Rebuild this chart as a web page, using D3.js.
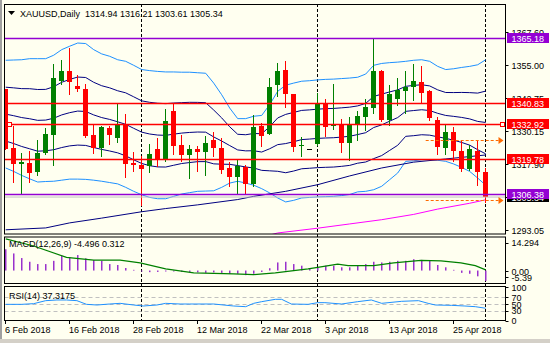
<!DOCTYPE html>
<html><head><meta charset="utf-8">
<script src="https://cdn.jsdelivr.net/npm/d3@7"></script>
<style>
body{margin:0;background:#FFFFF0}
svg{display:block}
text{font-family:"Liberation Sans",Arial,sans-serif;font-size:9px}
</style></head>
<body><svg id="c" width="550" height="343"></svg>
<script>
// ---------- DATA ----------
const dates = [
 "2018-02-06","2018-02-07","2018-02-08","2018-02-09","2018-02-12","2018-02-13","2018-02-14","2018-02-15","2018-02-16",
 "2018-02-19","2018-02-20","2018-02-21","2018-02-22","2018-02-23","2018-02-26","2018-02-27","2018-02-28",
 "2018-03-01","2018-03-02","2018-03-05","2018-03-06","2018-03-07","2018-03-08","2018-03-09","2018-03-12",
 "2018-03-13","2018-03-14","2018-03-15","2018-03-16","2018-03-19","2018-03-20","2018-03-21","2018-03-22",
 "2018-03-23","2018-03-26","2018-03-27","2018-03-28","2018-03-29","2018-03-30",
 "2018-04-02","2018-04-03","2018-04-04","2018-04-05","2018-04-06","2018-04-09","2018-04-10","2018-04-11",
 "2018-04-12","2018-04-13","2018-04-16","2018-04-17","2018-04-18","2018-04-19","2018-04-20","2018-04-23",
 "2018-04-24","2018-04-25","2018-04-26","2018-04-27","2018-04-30","2018-05-01"];
const open  = [1346.1,1323.83,1317.92,1318.18,1314.78,1321.95,1328.86,1349.21,1352.98,1347.32,1346.19,1328.86,1323.83,1331.37,1327.6,1332.62,1318.18,1317.55,1316.92,1323.45,1319.43,1337.9,1325.09,1321.32,1323.45,1322.32,1326.97,1323.83,1316.29,1312.9,1316.67,1310.26,1332.0,1329.11,1347.7,1353.23,1344.18,1324.46,1323.45,1325.46,1340.67,1332.25,1332.62,1325.71,1332.62,1335.39,1338.91,1352.73,1334.51,1342.42,1345.44,1346.82,1348.71,1345.44,1334.51,1323.83,1329.86,1322.57,1316.04,1322.82,1314.94];
const high  = [1346.1,1332.0,1321.95,1322.57,1326.86,1331.37,1355.49,1357.0,1361.52,1351.47,1347.95,1332.62,1332.0,1332.0,1340.67,1336.65,1322.32,1320.69,1325.34,1327.6,1338.66,1340.41,1328.86,1325.09,1324.46,1328.23,1329.86,1327.6,1318.43,1319.43,1317.3,1336.14,1333.26,1350.21,1355.87,1356.5,1344.31,1327.85,1323.45,1344.56,1342.3,1347.95,1334.89,1335.39,1337.9,1342.42,1365.29,1353.36,1347.45,1350.21,1352.73,1355.49,1354.61,1345.6,1335.39,1332.62,1331.62,1326.59,1325.09,1326.34,1316.21];
const low   = [1323.6,1310.89,1306.6,1310.89,1313.78,1321.5,1317.55,1347.96,1344.31,1345.19,1327.85,1321.95,1320.69,1325.34,1326.09,1312.9,1315.29,1302.47,1314.78,1317.17,1319.0,1321.57,1318.8,1312.52,1315.03,1313.53,1320.94,1314.41,1309.38,1306.87,1306.87,1309.38,1324.46,1329.0,1343.3,1339.28,1322.82,1320.94,1323.45,1324.83,1328.48,1331.12,1322.2,1319.43,1326.72,1330.74,1337.02,1334.13,1332.62,1339.91,1337.02,1342.05,1340.79,1334.51,1321.57,1321.57,1318.8,1315.03,1315.41,1309.76,1303.61];
const close = [1323.6,1317.92,1318.55,1314.41,1321.95,1329.11,1350.21,1352.98,1348.58,1346.07,1328.48,1323.83,1331.75,1328.86,1332.88,1317.92,1317.55,1316.04,1321.57,1319.43,1334.13,1324.71,1321.32,1323.45,1322.32,1325.71,1323.83,1315.66,1312.9,1316.92,1310.26,1331.75,1328.23,1346.7,1352.98,1344.31,1324.21,1324.83,1323.45,1340.67,1331.75,1332.88,1325.71,1332.62,1335.77,1339.28,1352.98,1334.51,1344.31,1345.57,1346.82,1349.21,1344.56,1335.14,1324.08,1329.86,1322.57,1316.04,1323.45,1314.78,1305.34];
// Bollinger(20) outer bands
const bbUpper = [1356.9,1357.0,1357.1,1357.5,1357.5,1357.5,1358.8,1360.9,1362.2,1363.4,1363.2,1360.9,1359.3,1358.4,1357.1,1356.5,1355.0,1353.4,1353.0,1352.7,1352.5,1352.5,1352.4,1352.4,1352.2,1352.0,1348.3,1343.9,1338.9,1334.9,1334.9,1335.8,1336.1,1340.2,1345.2,1347.5,1348.3,1349.0,1349.2,1349.5,1349.7,1349.8,1350.0,1350.2,1350.5,1351.7,1355.0,1355.7,1356.0,1356.2,1356.5,1356.9,1357.1,1356.5,1354.6,1353.4,1353.7,1354.2,1354.6,1355.2,1357.1];
const bbLower = [1316.3,1315.0,1313.5,1312.2,1311.0,1311.2,1311.3,1311.7,1312.1,1312.1,1312.0,1311.7,1311.3,1310.8,1310.3,1309.0,1307.5,1306.2,1305.2,1304.7,1304.7,1305.6,1306.5,1307.0,1307.5,1307.6,1307.7,1309.0,1310.6,1311.3,1310.6,1309.8,1308.5,1306.9,1305.0,1303.5,1304.1,1305.0,1305.2,1305.4,1305.5,1305.6,1305.9,1306.3,1307.3,1307.5,1308.1,1309.4,1311.9,1314.4,1318.8,1319.0,1319.4,1319.4,1319.2,1318.8,1317.8,1316.5,1315.0,1312.5,1309.8];
// long moving averages (sampled bars)
const maSlowIdx = [0,5,8,12,17,20,24,29,31,35,39,43,47,51,55,60];
const maSlowVal = [1293.0,1293.7,1295.6,1297.4,1299.8,1301.0,1302.4,1304.4,1305.6,1307.5,1310.0,1313.3,1316.3,1318.5,1319.7,1321.2];
const ma200Idx = [33,34,39,43,47,51,54,58,60];
const ma200Val = [1291.0,1291.8,1293.6,1295.2,1296.8,1298.8,1300.8,1303.0,1304.3];
// horizontal objects
const levelValues = [1365.18,1340.83,1332.92,1319.78,1306.38];
const levelColors = ["#9400D3","#FF0000","#FF0000","#FF0000","#9400D3"];
const bidPrice = 1305.34;
const arrowValues = [1326.73,1304.12];
const arrowStartIdx = 53;
const priceTicks = [1367.60,1355.00,1342.75,1330.15,1317.90,1305.30,1293.05];
// MACD
const macdHist = [9.2,7.4,5.4,3.8,2.8,2.8,4.2,6.4,5.7,6.7,5.3,4.5,4.2,2.8,2.4,1.1,0.3,-0.4,-0.7,-0.6,-0.4,-0.4,-0.6,-0.6,-0.8,-1.0,-0.8,-1.0,-1.4,-1.4,-2.0,-1.4,-0.6,1.0,3.5,3.8,2.8,2.1,1.0,1.4,2.1,2.1,1.4,1.4,2.1,2.8,3.8,3.5,3.8,4.2,4.2,4.9,4.6,4.2,2.4,1.4,0.3,-1.0,-1.4,-2.5,-4.496];
const sigIdx = [0,3.5,7.6,11,14.3,16.8,20,23.5,28.5,31,33.7,37.8,39,41.5,42.8,46,48.5,51.9,54.4,56.9,58.7,60];
const sigVal = [13.7,10.6,5.7,4.5,4.5,3.3,0.7,-1.0,-1.4,-1.8,-1.0,0.7,1.4,2.8,2.1,2.1,3.3,4.4,4.2,3.3,2.1,0.312];
// RSI
const rsiIdx = [0,2,3.5,5,6.4,7.6,8.9,10.1,11.4,13,14.3,16,17.2,18.9,20,21.8,23,26,28.5,30,31,32,33.7,34.5,35.7,37.8,39,39.9,42,44,45.7,47,49.5,51.6,52.8,53.7,55.7,57.4,58.7,60];
const rsiVal = [49,49,51,60,62,62,60,49,47,50,52,47,44,47,52,50,50,50,44,42,52,57,64,64,50,49,54,54,50,57,62,52,58,60,52,47,46,44,42,37.3175];
const tickDates = ["2018-02-06","2018-02-16","2018-02-28","2018-03-12","2018-03-22","2018-04-03","2018-04-13","2018-04-25"];
const tickLabels = ["6 Feb 2018","16 Feb 2018","28 Feb 2018","12 Mar 2018","22 Mar 2018","3 Apr 2018","13 Apr 2018","25 Apr 2018"];
const separatorDates = ["2018-03-01","2018-04-02","2018-05-01"];

// ---------- LAYOUT ----------
const W=550,H=343, L=4.5, R=505.5;
const mainTop=4, mainBot=234, macdTop=236.5, macdBot=283.5, rsiTop=286, rsiBot=320.5;
const svg=d3.select("#c");
svg.append("rect").attr("width",W).attr("height",H).attr("fill","#FFFFF0");
svg.append("rect").attr("x",0).attr("y",0).attr("width",2).attr("height",H).attr("fill","#A0A0A0");
svg.append("rect").attr("x",0).attr("y",339).attr("width",W).attr("height",4).attr("fill","#D4D0C8");

const x = d3.scalePoint().domain(dates).range([5.7,485.7]);
const xi = i => 5.7 + (i)*(x.step());
const y = d3.scaleLinear().domain([1291.41,1378.11]).range([mainBot,mainTop]);
const yM = d3.scaleLinear().domain([-5.39,14.294]).range([283,237.5]);
const yR = d3.scaleLinear().domain([0,100]).range([320.7,287.3]);

const defs=svg.append("defs");
function clip(id,y0,y1){defs.append("clipPath").attr("id",id).append("rect").attr("x",L).attr("y",y0).attr("width",R-L).attr("height",y1-y0);}
clip("cm",mainTop,mainBot); clip("cd",macdTop,macdBot); clip("cr",rsiTop,rsiBot);

// separators
svg.append("g").selectAll("line").data(separatorDates).join("line")
 .attr("x1",d=>Math.floor(x(d))+0.5).attr("x2",d=>Math.floor(x(d))+0.5)
 .attr("y1",mainTop).attr("y2",rsiBot).attr("stroke","#000").attr("stroke-dasharray","3,2");

// main panel
const gm=svg.append("g").attr("clip-path","url(#cm)");
const idx=d3.range(dates.length);
const bbMid=idx.map(i=>(bbUpper[i]+bbLower[i])/2);
const bbHalf=idx.map(i=>(bbUpper[i]-bbLower[i])/2);
const bands=[
 {k:2,c:"#1E90FF"},{k:-2,c:"#1E90FF"},{k:1,c:"#000080"},{k:0,c:"#000080"},{k:-1,c:"#000080"}];
const line=d3.line().x(d=>d[0]).y(d=>d[1]);
bands.forEach(b=>{
 gm.append("path").attr("d",line(idx.map(i=>[x(dates[i]),y(bbMid[i]+b.k*bbHalf[i]/2)])))
  .attr("fill","none").attr("stroke",b.c).attr("stroke-width",1);
});
gm.append("path").attr("d",line(maSlowIdx.map((i,j)=>[xi(i),y(maSlowVal[j])]))).attr("fill","none").attr("stroke","#000080");
gm.append("path").attr("d",line(ma200Idx.map((i,j)=>[xi(i),y(ma200Val[j])]))).attr("fill","none").attr("stroke","#FF00FF");

// candles
const col=i=> close[i]>open[i]?"#008000":(close[i]<open[i]?"#FF0000":"#000000");
const cx=i=>Math.floor(x(dates[i]));
gm.selectAll("line.w").data(idx).join("line").attr("class","w")
 .attr("x1",i=>cx(i)+0.5).attr("x2",i=>cx(i)+0.5)
 .attr("y1",i=>Math.round(y(high[i]))).attr("y2",i=>Math.round(y(low[i]))+1)
 .attr("stroke",col);
gm.selectAll("rect.b").data(idx).join("rect").attr("class","b")
 .attr("x",i=>cx(i)-2).attr("width",5)
 .attr("y",i=>Math.round(y(Math.max(open[i],close[i]))))
 .attr("height",i=>Math.max(1,Math.round(y(Math.min(open[i],close[i])))-Math.round(y(Math.max(open[i],close[i])))))
 .attr("fill",col);

// horizontal objects
gm.append("line").attr("x1",L).attr("x2",R).attr("y1",y(bidPrice)).attr("y2",y(bidPrice)).attr("stroke","#C0C0C0");
levelValues.forEach((v,j)=>{
 gm.append("line").attr("x1",L).attr("x2",R).attr("y1",Math.round(y(v))+0.5).attr("y2",Math.round(y(v))+0.5)
  .attr("stroke",levelColors[j]).attr("stroke-width",1.3);
});
// markers on 1332.92
[7.5,500.5].forEach(px=>{
 svg.append("rect").attr("x",px).attr("y",Math.round(y(levelValues[2]))-1.5).attr("width",4).attr("height",4)
  .attr("fill","#FFFFF0").attr("stroke","#FF0000");
});
// orange dashed arrows
arrowValues.forEach(v=>{
 const yy=Math.round(y(v))+0.5, x0=x(dates[arrowStartIdx])-4, x1=R-7;
 svg.append("line").attr("x1",x0).attr("x2",x1).attr("y1",yy).attr("y2",yy)
  .attr("stroke","#FF6A00").attr("stroke-width",1.2).attr("stroke-dasharray","3,2");
 svg.append("path").attr("d",`M${x1},${yy-3.5}L${x1+5},${yy}L${x1},${yy+3.5}Z`).attr("fill","#FF6A00");
});

// MACD panel
const gd=svg.append("g").attr("clip-path","url(#cd)");
gd.selectAll("rect").data(idx).join("rect")
 .attr("x",i=>cx(i)).attr("width",1.5)
 .attr("y",i=>Math.min(yM(0),yM(macdHist[i]))).attr("height",i=>Math.abs(yM(0)-yM(macdHist[i])))
 .attr("fill","#9932CC");
gd.append("path").attr("d",line(sigIdx.map((i,j)=>[xi(i),yM(sigVal[j])]))).attr("fill","none").attr("stroke","#008000").attr("stroke-width",1.2);

// RSI panel
const gr=svg.append("g").attr("clip-path","url(#cr)");
[70,50,30].forEach(v=>gr.append("line").attr("x1",L).attr("x2",R).attr("y1",Math.round(yR(v))+0.5).attr("y2",Math.round(yR(v))+0.5)
 .attr("stroke","#C0C0C0").attr("stroke-dasharray","4,3"));
gr.append("path").attr("d",line(rsiIdx.map((i,j)=>[xi(i),yR(rsiVal[j])]))).attr("fill","none").attr("stroke","#1E90FF");

// frames
[[mainTop,mainBot],[macdTop,macdBot],[rsiTop,rsiBot]].forEach(([a,b])=>{
 svg.append("rect").attr("x",L).attr("y",a+0.5).attr("width",R-L).attr("height",b-a-0.5).attr("fill","none").attr("stroke","#000");
});

// right axis (main)
svg.selectAll("g.pt").data(priceTicks).join("g").attr("class","pt").each(function(v){
 const g=d3.select(this), yy=Math.round(y(v))+0.5;
 g.append("line").attr("x1",R).attr("x2",R+3).attr("y1",yy).attr("y2",yy).attr("stroke","#000");
 g.append("text").attr("x",511.5).attr("y",yy+3.5).text(v.toFixed(2));
});
function tag(v,c){
 const yy=Math.round(y(v));
 svg.append("rect").attr("x",507).attr("y",yy-5).attr("width",42).attr("height",10).attr("fill",c);
 svg.append("text").attr("x",511.5).attr("y",yy+3.5).attr("fill","#fff").text(v.toFixed(2));
}
tag(bidPrice,"#000");
levelValues.forEach((v,j)=>tag(v,levelColors[j]));

// MACD axis
[[14.294,"14.294"],[0,"0.00"],[-5.39,"-5.39"]].forEach(([v,t],k)=>{
 const yy=k==0?242.5:(k==1?271:277);
 svg.append("text").attr("x",511.5).attr("y",yy+3.5).text(t);
 svg.append("line").attr("x1",R).attr("x2",R+3).attr("y1",Math.round(yy)+0.5).attr("y2",Math.round(yy)+0.5).attr("stroke","#000");
});
// RSI axis
[[100,"100"],[70,"70"],[50,"50"],[30,"30"],[0,"0"]].forEach(([v,t])=>{
 const yy=yR(v);
 svg.append("text").attr("x",511.5).attr("y",yy+3.5).text(t);
 svg.append("line").attr("x1",R).attr("x2",R+3).attr("y1",Math.round(yy)+0.5).attr("y2",Math.round(yy)+0.5).attr("stroke","#000");
});

// date axis
tickDates.forEach((d,j)=>{
 const px=Math.floor(x(d))+0.5;
 svg.append("line").attr("x1",px).attr("x2",px).attr("y1",rsiBot).attr("y2",rsiBot+3.5).attr("stroke","#000");
 svg.append("text").attr("x",px-0.5).attr("y",332.5).text(tickLabels[j]);
});

// titles
svg.append("path").attr("d","M8,11L15,11L11.5,15Z").attr("fill","#000");
svg.append("text").attr("x",20).attr("y",16.5).style("white-space","pre").text("XAUUSD,Daily  1314.94 1316.21 1303.61 1305.34");
svg.append("text").attr("x",9).attr("y",246.5).text("MACD(12,26,9) -4.496 0.312");
svg.append("text").attr("x",9).attr("y",299).text("RSI(14) 37.3175");
</script></body></html>
